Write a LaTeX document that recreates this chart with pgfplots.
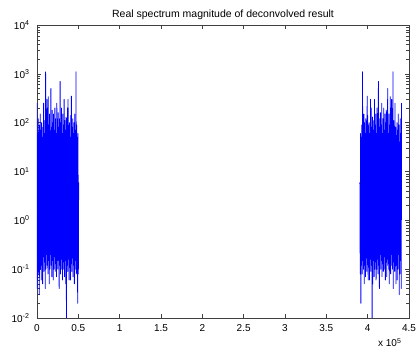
\documentclass[border=0pt]{standalone}
\usepackage{fontspec}
\setmainfont{Liberation Sans}
\usepackage{pgfplots}
\pgfplotsset{compat=1.18}
\usepackage{pgfplotstable}

% low-frequency half of the real spectrum (the other half is its mirror image about N = 441000)
\pgfplotstableread{
x y
0 250
400 0.04
800 60
1200 0.15
1600 120
2000 0.08
2400 40
2800 0.03
3200 90
3600 0.2
4000 150
4400 0.1
4800 70
5200 0.06
5600 100
6000 0.12
6400 50
6800 0.05
7200 80
7600 0.18
8000 250
8400 0.09
8800 60
9200 0.14
9600 110
10000 0.04
10400 1100
10800 0.1
11200 70
11600 0.2
12000 300
12400 0.12
12800 200
13200 0.08
13600 340
14000 0.15
14400 90
14800 0.05
15200 150
15600 0.1
16000 60
16400 0.2
16800 500
17200 0.12
17600 80
18000 0.07
18400 180
18800 0.15
19200 100
19600 0.06
20000 150
20400 0.1
20800 70
21200 0.18
21600 200
22000 0.09
22400 120
22800 0.13
23200 60
23600 0.07
24000 250
24400 0.15
24800 90
25200 0.1
25600 160
26000 0.2
26400 80
26800 0.04
27200 120
27600 0.12
28000 700
28400 0.08
28800 100
29200 0.16
29600 200
30000 0.1
30400 60
30800 0.06
31200 150
31600 0.14
32000 90
32400 0.1
32800 300
33200 0.07
33600 110
34000 0.15
34400 70
34800 0.05
35200 130
35600 0.01
36000 80
36400 0.12
36800 200
37200 0.09
37600 300
38000 0.16
38400 60
38800 0.06
39200 100
39600 0.11
40000 50
40400 0.06
40800 140
41200 0.13
41600 350
42000 0.09
42400 80
42800 0.17
43200 120
43600 0.07
44000 60
44400 0.12
44800 100
45200 0.05
45600 150
46000 0.1
46400 70
46800 0.15
47200 1100
47600 0.08
48000 90
48400 0.12
48800 50
49200 0.02
49600 60
50000 0.08
50400 6
}\spec

\begin{document}
\begin{tikzpicture}
\useasboundingbox (-37pt,-38pt) rectangle (379pt,318pt);
\begin{axis}[
  at={(0,0)}, anchor=south west,
  scale only axis, width=372pt, height=293pt,
  ymode=log, log basis y=10,
  xmin=0, xmax=450000, ymin=1e-2, ymax=1e4,
  xtick={0,50000,100000,150000,200000,250000,300000,350000,400000,450000},
  xticklabels={0,0.5,1,1.5,2,2.5,3,3.5,4,4.5},
  scaled x ticks=false,
  yticklabel={10\textsuperscript{\pgfmathparse{int(round(\tick))}\pgfmathresult}},
  tick label style={font=\fontsize{10}{11}\selectfont},
  xticklabel style={yshift=-3pt},
  yticklabel style={xshift=-4pt},
  tick align=inside,
  axis line style={black!75},
  every tick/.style={black!75},
  clip mode=individual,
]
\addplot[blue, line width=0.8pt, line join=round] table[x=x, y=y] {\spec};
\addplot[blue, line width=0.8pt, line join=round] table[x expr={441000-\thisrow{x}}, y=y] {\spec};
\node[anchor=base, font=\fontsize{10.5}{12}\selectfont] at (rel axis cs:0.5,1) [yshift=7pt] {Real spectrum magnitude of deconvolved result};
\node[anchor=base east, font=\fontsize{10}{11}\selectfont] at (rel axis cs:1,0) [xshift=-4pt, yshift=-29pt] {x 10\textsuperscript{5}};
\end{axis}
\end{tikzpicture}
\end{document}
